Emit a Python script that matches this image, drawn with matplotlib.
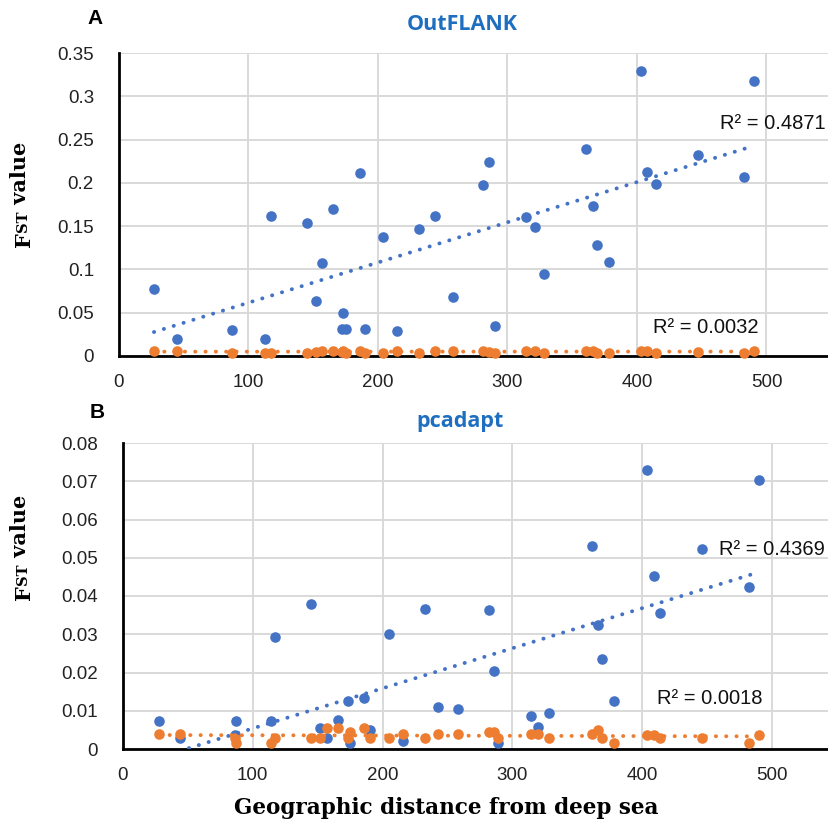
import numpy as np
import matplotlib
matplotlib.use("Agg")
import matplotlib.pyplot as plt
from matplotlib.text import Annotation

# ---------------- data ----------------
# Panel A (OutFLANK)
a_x = [27, 45, 87, 113, 117, 145, 152, 157, 165, 172, 173, 175, 186, 190, 204, 215, 232, 244,
       258, 281, 286, 290, 314, 321, 328, 361, 366, 369, 378, 403, 408, 415, 447, 483, 490]
a_blue = [0.077, 0.020, 0.030, 0.020, 0.162, 0.154, 0.064, 0.107, 0.170, 0.031, 0.050, 0.031,
          0.211, 0.031, 0.138, 0.029, 0.147, 0.162, 0.068, 0.197, 0.224, 0.035, 0.160, 0.149,
          0.095, 0.239, 0.173, 0.128, 0.109, 0.329, 0.212, 0.199, 0.232, 0.207, 0.318]
a_orange = [0.006, 0.006, 0.004, 0.004, 0.004, 0.004, 0.005, 0.006, 0.006, 0.005, 0.006, 0.004,
            0.006, 0.004, 0.004, 0.006, 0.004, 0.006, 0.006, 0.006, 0.005, 0.004, 0.006, 0.006,
            0.004, 0.006, 0.006, 0.004, 0.004, 0.006, 0.006, 0.004, 0.005, 0.004, 0.006]

# Panel B (pcadapt)
b_x = [28, 44, 86, 87, 114, 117, 145, 152, 157, 166, 173, 175, 186, 190, 205, 216, 233, 243,
       258, 282, 286, 289, 314, 320, 328, 361, 366, 369, 378, 404, 409, 414, 446, 482, 490]
b_blue = [0.0073, 0.0030, 0.0037, 0.0073, 0.0073, 0.0293, 0.0380, 0.0055, 0.0030, 0.0075,
          0.0125, 0.0015, 0.0133, 0.0050, 0.0300, 0.0020, 0.0365, 0.0110, 0.0104, 0.0363,
          0.0204, 0.0015, 0.0086, 0.0057, 0.0094, 0.0530, 0.0324, 0.0235, 0.0125, 0.0729,
          0.0452, 0.0355, 0.0522, 0.0423, 0.0702]
b_orange = [0.0039, 0.0039, 0.0030, 0.0015, 0.0016, 0.0030, 0.0030, 0.0030, 0.0055, 0.0055,
            0.0028, 0.0045, 0.0055, 0.0030, 0.0028, 0.0040, 0.0030, 0.0040, 0.0040, 0.0045,
            0.0045, 0.0030, 0.0040, 0.0040, 0.0028, 0.0040, 0.0050, 0.0028, 0.0015, 0.0037,
            0.0037, 0.0028, 0.0030, 0.0015, 0.0037]

x_ticks = [0, 100, 200, 300, 400, 500]
a_yticks = [0, 0.05, 0.1, 0.15, 0.2, 0.25, 0.3, 0.35]
a_ylabels = ["0", "0.05", "0.1", "0.15", "0.2", "0.25", "0.3", "0.35"]
b_yticks = [0, 0.01, 0.02, 0.03, 0.04, 0.05, 0.06, 0.07, 0.08]
b_ylabels = ["0", "0.01", "0.02", "0.03", "0.04", "0.05", "0.06", "0.07", "0.08"]

a_r2 = ["R\u00b2 = 0.4871", "R\u00b2 = 0.0032"]
b_r2 = ["R\u00b2 = 0.4369", "R\u00b2 = 0.0018"]

BLUE = "#4472C4"
ORANGE = "#ED7D31"
TITLE_C = "#1F6FC0"

W, H = 829, 823
fig = plt.figure(figsize=(W / 100, H / 100), dpi=100)

def fpos(left, top, right, bottom):
    return [left / W, 1 - bottom / H, (right - left) / W, (bottom - top) / H]

def style_axes(ax, xmax, yticks, ylabels, ymax):
    ax.set_xlim(0, xmax)
    ax.set_ylim(0, ymax)
    ax.set_xticks(x_ticks)
    ax.set_xticklabels([str(t) for t in x_ticks])
    ax.set_yticks(yticks)
    ax.set_yticklabels(ylabels)
    for s in ["top", "right"]:
        ax.spines[s].set_visible(False)
    for s in ["left", "bottom"]:
        ax.spines[s].set_color("black")
        ax.spines[s].set_linewidth(2.0)
        ax.spines[s].set_zorder(2.5)
    ax.grid(True, color="#d9d9d9", linewidth=1.4, zorder=0)
    ax.set_axisbelow(True)
    ax.tick_params(length=0, labelsize=13.5, colors="#222222")
    ax.tick_params(axis="y", pad=18)
    ax.tick_params(axis="x", pad=13)
    for lab in ax.get_xticklabels() + ax.get_yticklabels():
        lab.set_fontfamily("Liberation Sans")

dot_ls = (0, (0.05, 2.6))

def trend(ax, xs, ys, color):
    xs = np.asarray(xs, float)
    ys = np.asarray(ys, float)
    m, c = np.polyfit(xs, ys, 1)
    xx = np.linspace(xs.min(), xs.max(), 200)
    ax.plot(xx, m * xx + c, linestyle=dot_ls, color=color, linewidth=2.8,
            dash_capstyle="round", zorder=4, clip_on=True)

# ---------- Panel A ----------
axA = fig.add_axes(fpos(119, 53, 829, 356))
style_axes(axA, (829 - 119) / 1.295, a_yticks, a_ylabels, 0.35)
axA.scatter(a_x, a_blue, s=58, color=BLUE, zorder=3, linewidths=0)
axA.scatter(a_x, a_orange, s=58, color=ORANGE, zorder=3, linewidths=0, clip_on=False)
trend(axA, a_x, a_blue, BLUE)
trend(axA, a_x, a_orange, ORANGE)
axA.text(546, 0.269, a_r2[0], fontsize=14.5, family="Liberation Sans", ha="right", va="center",
         color="#111111", clip_on=False)
axA.text(494, 0.0325, a_r2[1], fontsize=14.5, family="Liberation Sans", ha="right", va="center",
         color="#111111")

# ---------- Panel B ----------
axB = fig.add_axes(fpos(123, 443, 829, 749))
style_axes(axB, (829 - 123) / 1.298, b_yticks, b_ylabels, 0.08)
axB.scatter(b_x, b_blue, s=58, color=BLUE, zorder=3, linewidths=0)
axB.scatter(b_x, b_orange, s=58, color=ORANGE, zorder=3.2, linewidths=0, clip_on=False)
trend(axB, b_x, b_blue, BLUE)
trend(axB, b_x, b_orange, ORANGE)
axB.text(541, 0.0522, b_r2[0], fontsize=14.5, family="Liberation Sans", ha="right", va="center",
         color="#111111", clip_on=False)
axB.text(493, 0.0133, b_r2[1], fontsize=14.5, family="Liberation Sans", ha="right", va="center",
         color="#111111")

# titles and panel letters
fig.text(462 / W, 1 - 25 / H, "OutFLANK", fontsize=15.5, fontweight="bold", color=TITLE_C,
         family="Open Sans", ha="center", va="center")
fig.text(460 / W, 1 - 421 / H, "pcadapt", fontsize=15.5, fontweight="bold", color=TITLE_C,
         family="Open Sans", ha="center", va="center")
fig.text(95 / W, 1 - 18 / H, "A", fontsize=15, fontweight="bold", family="Liberation Sans",
         ha="center", va="center")
fig.text(97 / W, 1 - 413 / H, "B", fontsize=15, fontweight="bold", family="Liberation Sans",
         ha="center", va="center")

# y labels: "F" + small-caps "ST" + " value", rotated
def build_ylabel(x_px, y_bottom_px):
    t1 = fig.text(x_px / W, 1 - y_bottom_px / H, "F", rotation=90, fontsize=15,
                  fontweight="bold", family="DejaVu Serif", ha="center", va="bottom")
    a2 = Annotation("ST", xy=(0.80, 1.0), xycoords=t1, ha="right", va="bottom", rotation=90,
                    fontsize=10.5, fontweight="bold", family="DejaVu Serif")
    fig.add_artist(a2)
    a3 = Annotation(" value", xy=(1.0, 1.0), xycoords=a2, ha="right", va="bottom",
                    rotation=90, fontsize=15, fontweight="bold", family="DejaVu Serif")
    fig.add_artist(a3)
    return t1, a2, a3

build_ylabel(24, 247)
build_ylabel(24, 600)

fig.text(446 / W, 1 - 808 / H, "Geographic distance from deep sea", fontsize=15.5,
         fontweight="bold", family="DejaVu Serif", ha="center", va="center")

fig.savefig("out.png", dpi=100)
